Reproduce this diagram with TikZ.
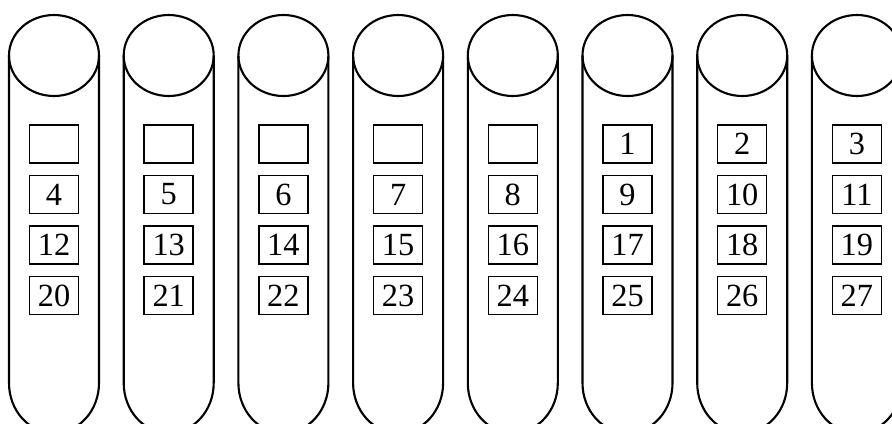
\documentclass[tikz,border=0pt]{standalone}
\usepackage{fontspec}
\setmainfont{Liberation Serif}
\tikzset{
  slot/.style={rectangle, draw, line width=1.1pt, minimum width=1.225cm,
    minimum height=0.95cm, inner sep=0pt, font=\fontsize{23}{23}\selectfont},
  tube/.style={line width=1.5pt},
}
\begin{document}
\begin{tikzpicture}[x=0.025cm, y=-0.025cm]
  \useasboundingbox (0,0) rectangle (892,423);
  \clip (0,0) rectangle (892,423);
  % one tube per column, slots stacked inside
  \foreach \i in {0,...,7} {
    \pgfmathsetmacro{\cx}{54+114.7*\i}
    \pgfmathtruncatemacro{\na}{\i-4}
    \pgfmathtruncatemacro{\nb}{\i+4}
    \pgfmathtruncatemacro{\nc}{\i+12}
    \pgfmathtruncatemacro{\nd}{\i+20}
    \draw[tube] (\cx,55.5) ellipse [x radius=45, y radius=40.5];
    \draw[tube] (\cx-45,55.5) -- (\cx-45,383)
      arc[start angle=180, end angle=0, x radius=45, y radius=50]
      -- (\cx+45,55.5);
    \node[slot] (s\i-1) at (\cx,144) {\ifnum\i>4 \na\fi};
    \node[slot] (s\i-2) at (\cx,194.5) {\nb};
    \node[slot] (s\i-3) at (\cx,245) {\nc};
    \node[slot] (s\i-4) at (\cx,295.5) {\nd};
  }
\end{tikzpicture}
\end{document}
